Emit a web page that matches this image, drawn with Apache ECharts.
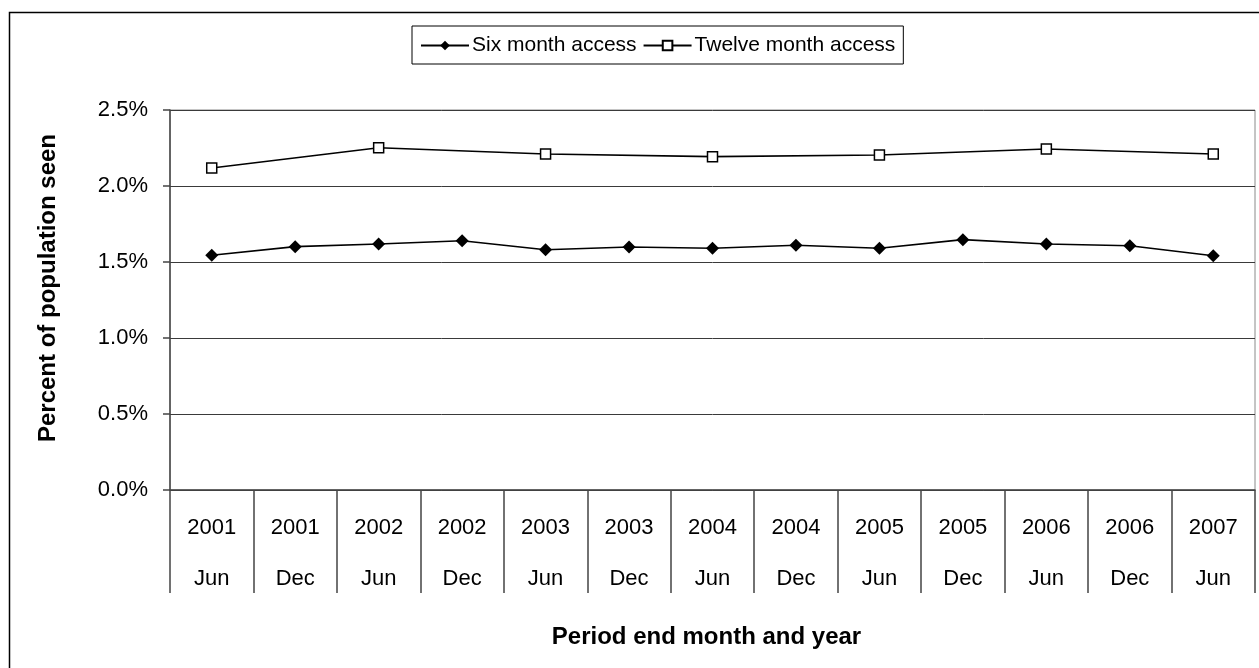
<!DOCTYPE html>
<html>
<head>
<meta charset="utf-8">
<script src="https://cdn.jsdelivr.net/npm/echarts@6/dist/echarts.min.js"></script>
<style>
  html, body { margin: 0; padding: 0; background: #fff; }
  #chart { width: 1259px; height: 668px; }
</style>
</head>
<body>
<div id="chart"></div>
<script>
// Period end: year and month of each six-month period
const years  = ['2001', '2001', '2002', '2002', '2003', '2003', '2004', '2004', '2005', '2005', '2006', '2006', '2007'];
const months = ['Jun', 'Dec', 'Jun', 'Dec', 'Jun', 'Dec', 'Jun', 'Dec', 'Jun', 'Dec', 'Jun', 'Dec', 'Jun'];

// Percent of population seen
const sixMonth    = [1.544, 1.601, 1.618, 1.640, 1.581, 1.599, 1.590, 1.610, 1.590, 1.647, 1.618, 1.607, 1.541];
const twelveMonth = [2.118, null, 2.252, null, 2.211, null, 2.193, null, 2.204, null, 2.243, null, 2.211];

const yTicks = [0, 0.5, 1.0, 1.5, 2.0, 2.5];

const categories = years.map((y, i) => y + '\n' + months[i]);
const FONT = '"Liberation Sans", Arial, sans-serif';

const chart = echarts.init(document.getElementById('chart'), null, { renderer: 'canvas' });

chart.setOption({
  backgroundColor: '#ffffff',
  animation: false,
  textStyle: { fontFamily: FONT, color: '#000' },
  graphic: [{
    type: 'rect',
    shape: { x: 9.5, y: 12.5, width: 1300, height: 700 },
    style: { fill: 'none', stroke: '#000', lineWidth: 1.5 },
    silent: true,
    z: -10
  }],
  legend: {
    left: 412,
    top: 26,
    padding: [9, 8, 8, 8],
    itemGap: 6,
    itemWidth: 48,
    itemHeight: 12,
    borderColor: '#000',
    borderWidth: 1,
    backgroundColor: '#fff',
    textStyle: { fontFamily: FONT, fontSize: 21, color: '#000', padding: [0, 0, 0, -2] },
    data: ['Six month access', 'Twelve month access']
  },
  grid: {
    left: 170,
    right: 4,
    top: 110,
    bottom: 178,
    show: true,
    borderColor: '#8a8a8a',
    borderWidth: 1,
    containLabel: false
  },
  xAxis: {
    type: 'category',
    data: categories,
    boundaryGap: true,
    name: 'Period end month and year',
    nameLocation: 'middle',
    nameGap: 135,
    nameTextStyle: { fontFamily: FONT, fontSize: 24, fontWeight: 'bold', color: '#000', padding: [0, 12, 0, 0] },
    axisLine: { show: true, lineStyle: { color: '#444', width: 1.5 } },
    axisTick: { show: true, length: 103, alignWithLabel: false, lineStyle: { color: '#444', width: 1.5 } },
    axisLabel: {
      interval: 0,
      margin: 12,
      fontFamily: FONT,
      fontSize: 22,
      color: '#000',
      lineHeight: 51
    },
    splitLine: { show: false }
  },
  yAxis: {
    type: 'value',
    min: 0,
    max: 2.5,
    interval: 0.5,
    name: 'Percent of population seen',
    nameLocation: 'middle',
    nameRotate: 90,
    nameGap: 110,
    nameTextStyle: { fontFamily: FONT, fontSize: 24, fontWeight: 'bold', color: '#000', padding: [0, 0, 0, 24] },
    axisLine: { show: true, lineStyle: { color: '#444', width: 1.5 } },
    axisTick: { show: true, length: 7, lineStyle: { color: '#444', width: 1.5 } },
    axisLabel: {
      margin: 22,
      fontFamily: FONT,
      fontSize: 22,
      color: '#000',
      formatter: v => yTicks.includes(v) ? v.toFixed(1) + '%' : ''
    },
    splitLine: { show: true, lineStyle: { color: '#3a3a3a', width: 1 } }
  },
  series: [
    {
      name: 'Six month access',
      type: 'line',
      data: sixMonth,
      symbol: 'diamond',
      symbolSize: [13, 13],
      lineStyle: { color: '#000', width: 1.6 },
      itemStyle: { color: '#000', borderColor: '#000', borderWidth: 0 },
      z: 3
    },
    {
      name: 'Twelve month access',
      type: 'line',
      data: twelveMonth,
      connectNulls: true,
      symbol: 'rect',
      symbolSize: [10, 10],
      lineStyle: { color: '#000', width: 1.6 },
      itemStyle: { color: '#fff', borderColor: '#000', borderWidth: 1.5 },
      z: 3
    }
  ]
});
</script>
</body>
</html>
